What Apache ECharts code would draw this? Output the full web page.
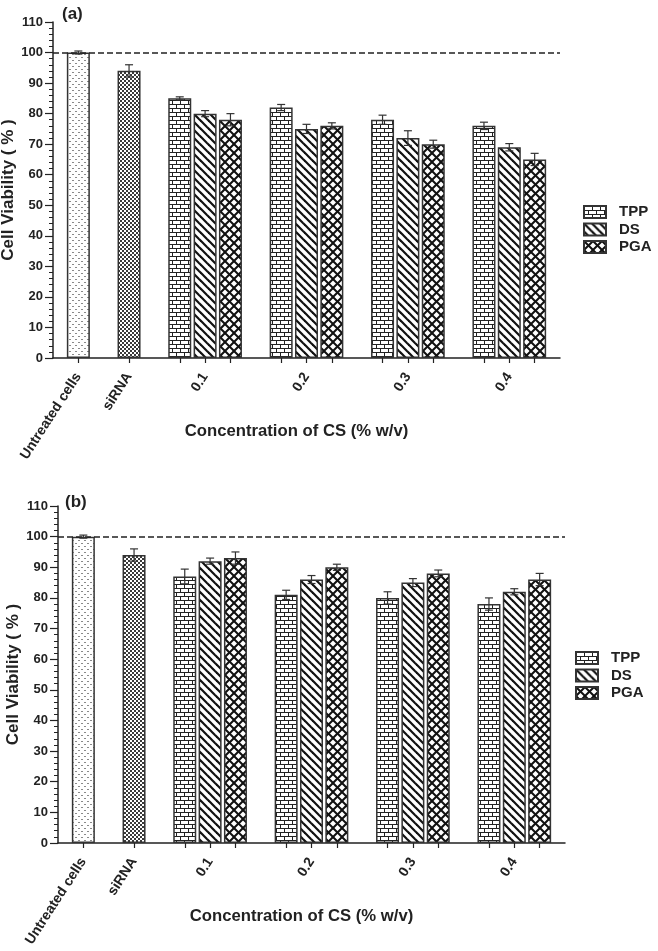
<!DOCTYPE html>
<html>
<head>
<meta charset="utf-8">
<script src="https://cdn.jsdelivr.net/npm/echarts@6/dist/echarts.min.js"></script>
<style>
  html, body { margin: 0; padding: 0; background: #fff; }
  #chart { width: 658px; height: 951px; }
</style>
</head>
<body>
<div id="chart"></div>
<script>
// data
const controls = ['Untreated cells', 'siRNA'];
const concs = ['0.1', '0.2', '0.3', '0.4'];
const groups = ['TPP', 'DS', 'PGA'];
const refLine = 100;

// panel (a)
const ctrlA = [100, 94];
const ctrlErrA = [0.5, 2];
const tppA = [85, 82, 78, 76];
const tppErrA = [0.5, 1, 1.5, 1.2];
const dsA = [80, 75, 72, 69];
const dsErrA = [1, 1.5, 2.4, 1.2];
const pgaA = [78, 76, 70, 65];
const pgaErrA = [2, 1, 1.3, 2];

// panel (b)
const ctrlB = [100, 94];
const ctrlErrB = [0.5, 2];
const tppB = [87, 81, 80, 78];
const tppErrB = [2.4, 1.5, 2, 2];
const dsB = [92, 86, 85, 82];
const dsErrB = [1, 1.3, 1.3, 1];
const pgaB = [93, 90, 88, 86];
const pgaErrB = [2, 1, 1.1, 2];

const FONT = 'Liberation Sans, Arial, sans-serif';

// slot layout on a category axis: one empty slot at each end,
// controls take 2 slots each, each concentration group takes 4
const NSLOT = 21;
const ctrlSlot = i => 1 + i * 2;
const grpSlot = (i, j) => 5 + i * 4 + j;
const slotKeys = [];
for (let k = 0; k < NSLOT; k++) slotKeys.push('s' + k);
const hasBar = {};
controls.forEach((c, i) => hasBar[ctrlSlot(i)] = true);
concs.forEach((c, i) => groups.forEach((g, j) => hasBar[grpSlot(i, j)] = true));
const labelAt = {};
controls.forEach((c, i) => labelAt[ctrlSlot(i)] = c);
concs.forEach((c, i) => labelAt[grpSlot(i, 1)] = c);

// fill patterns
function pattern(w, h, draw) {
    const c = document.createElement('canvas');
    c.width = w; c.height = h;
    const ctx = c.getContext('2d');
    ctx.fillStyle = '#fff';
    ctx.fillRect(0, 0, w, h);
    draw(ctx, w, h);
    return { image: c, repeat: 'repeat' };
}
const dotFill = pattern(6, 6, (ctx) => {
    ctx.fillStyle = '#8a8a8a';
    ctx.fillRect(0, 0, 2, 1);
    ctx.fillRect(3, 3, 2, 1);
});
const checkFill = pattern(4, 4, (ctx) => {
    ctx.fillStyle = '#3a3a3a';
    ctx.fillRect(0, 0, 2, 2);
    ctx.fillRect(2, 2, 2, 2);
});
const brickFill = pattern(8, 8, (ctx) => {
    ctx.fillStyle = '#222';
    ctx.fillRect(0, 0, 8, 1);
    ctx.fillRect(0, 4, 8, 1);
    ctx.fillRect(0, 0, 1, 4);
    ctx.fillRect(4, 4, 1, 4);
});
const stripeFill = pattern(8, 8, (ctx) => {
    ctx.strokeStyle = '#111';
    ctx.lineWidth = 2.2;
    for (let k = -1; k <= 1; k++) {
        ctx.beginPath();
        ctx.moveTo(k * 8 - 1, -1);
        ctx.lineTo(k * 8 + 9, 9);
        ctx.stroke();
    }
});
const crossFill = pattern(9, 9, (ctx) => {
    ctx.strokeStyle = '#111';
    ctx.lineWidth = 2;
    for (let k = -1; k <= 1; k++) {
        ctx.beginPath();
        ctx.moveTo(k * 9 - 1, -1);
        ctx.lineTo(k * 9 + 10, 10);
        ctx.stroke();
        ctx.beginPath();
        ctx.moveTo(k * 9 - 1, 10);
        ctx.lineTo(k * 9 + 10, -1);
        ctx.stroke();
    }
});
const groupFills = [brickFill, stripeFill, crossFill];
const ctrlFills = [dotFill, checkFill];

function errRender(params, api) {
    const x = api.value(0);
    const top = api.coord([x, api.value(2)]);
    const bot = api.coord([x, api.value(1)]);
    const hw = 4;
    const st = { stroke: '#333', lineWidth: 1.2 };
    return {
        type: 'group',
        children: [
            { type: 'line', shape: { x1: top[0], y1: top[1], x2: bot[0], y2: bot[1] }, style: st },
            { type: 'line', shape: { x1: top[0] - hw, y1: top[1], x2: top[0] + hw, y2: top[1] }, style: st },
            { type: 'line', shape: { x1: bot[0] - hw, y1: bot[1], x2: bot[0] + hw, y2: bot[1] }, style: st }
        ]
    };
}

function slotData(pairs) {
    const arr = new Array(NSLOT).fill('-');
    pairs.forEach(p => arr[p[0]] = p[1]);
    return arr;
}

function bar(idx, name, pairs, fill) {
    return {
        type: 'bar', name: name,
        xAxisIndex: idx, yAxisIndex: idx,
        barWidth: 23, barGap: '-100%',
        data: slotData(pairs),
        itemStyle: { color: fill, borderColor: '#333', borderWidth: 1.5 }
    };
}

function panelSeries(idx, ctrl, ctrlErr, grpVals, grpErrs) {
    const out = [];
    const errData = [];
    controls.forEach((name, i) => {
        const s = bar(idx, name, [[ctrlSlot(i), ctrl[i]]], ctrlFills[i]);
        if (i === 0) {
            s.markLine = {
                silent: true, symbol: 'none', label: { show: false },
                lineStyle: { color: '#222', width: 1.5, type: [6, 3] },
                data: [{ yAxis: refLine }]
            };
        }
        out.push(s);
        errData.push([ctrlSlot(i), ctrl[i] - ctrlErr[i], ctrl[i] + ctrlErr[i]]);
    });
    groups.forEach((g, j) => {
        out.push(bar(idx, g, concs.map((c, i) => [grpSlot(i, j), grpVals[j][i]]), groupFills[j]));
        concs.forEach((c, i) => {
            errData.push([grpSlot(i, j), grpVals[j][i] - grpErrs[j][i], grpVals[j][i] + grpErrs[j][i]]);
        });
    });
    out.push({
        type: 'custom', name: 'err', xAxisIndex: idx, yAxisIndex: idx,
        renderItem: errRender, data: errData, z: 5, silent: true
    });
    return out;
}

function xAxis(idx) {
    return {
        type: 'category', gridIndex: idx, data: slotKeys, boundaryGap: false,
        name: 'Concentration of CS (% w/v)', nameLocation: 'middle', nameGap: 65,
        nameMoveOverlap: false,
        nameTextStyle: { fontFamily: FONT, fontWeight: 'bold', fontSize: 16.7, color: '#222', padding: [0, 20, 0, 0] },
        axisLine: { lineStyle: { color: '#222', width: 1.5 } },
        axisTick: {
            interval: (i) => !!hasBar[i], length: 5,
            lineStyle: { color: '#222', width: 1.2 }
        },
        axisLabel: {
            interval: (i) => !!labelAt[i], rotate: 57, margin: 16,
            formatter: (v, i) => labelAt[i] || '',
            fontFamily: FONT, fontWeight: 'bold', fontSize: 14, color: '#222'
        },
        splitLine: { show: false }
    };
}
function yAxis(idx) {
    return {
        type: 'value', gridIndex: idx, min: 0, max: 110, interval: 10,
        name: 'Cell Viability ( % )', nameLocation: 'middle', nameGap: 36,
        nameMoveOverlap: false,
        nameTextStyle: { fontFamily: FONT, fontWeight: 'bold', fontSize: 17, color: '#222' },
        axisLine: { show: true, onZero: false, lineStyle: { color: '#222', width: 1.5 } },
        axisTick: { show: true, length: 8, lineStyle: { color: '#222', width: 1.2 } },
        minorTick: { show: true, splitNumber: 5, length: 4, lineStyle: { color: '#222', width: 1 } },
        axisLabel: { margin: 10, fontFamily: FONT, fontWeight: 'bold', fontSize: 13, color: '#222' },
        splitLine: { show: false }
    };
}
function legend(left, top) {
    return {
        data: groups, orient: 'vertical', left: left, top: top, padding: 0,
        icon: 'rect', itemWidth: 22, itemHeight: 12, itemGap: 2.5,
        selectedMode: false,
        textStyle: { fontFamily: FONT, fontWeight: 'bold', fontSize: 15, color: '#222', padding: [0, 0, 0, 8] }
    };
}

const chart = echarts.init(document.getElementById('chart'));
chart.setOption({
    backgroundColor: '#fff',
    animation: false,
    title: [
        { text: '(a)', left: 62, top: 6, padding: 0, textStyle: { fontFamily: FONT, fontWeight: 'bold', fontSize: 17, color: '#222' } },
        { text: '(b)', left: 65, top: 494, padding: 0, textStyle: { fontFamily: FONT, fontWeight: 'bold', fontSize: 17, color: '#222' } }
    ],
    grid: [
        { left: 53, top: 22, width: 507, height: 336, containLabel: false, outerBoundsMode: 'none' },
        { left: 58, top: 506, width: 507, height: 337, containLabel: false, outerBoundsMode: 'none' }
    ],
    legend: [legend(583, 204.5), legend(575, 650.5)],
    xAxis: [xAxis(0), xAxis(1)],
    yAxis: [yAxis(0), yAxis(1)],
    series: [
        ...panelSeries(0, ctrlA, ctrlErrA, [tppA, dsA, pgaA], [tppErrA, dsErrA, pgaErrA]),
        ...panelSeries(1, ctrlB, ctrlErrB, [tppB, dsB, pgaB], [tppErrB, dsErrB, pgaErrB])
    ]
});
</script>
</body>
</html>
